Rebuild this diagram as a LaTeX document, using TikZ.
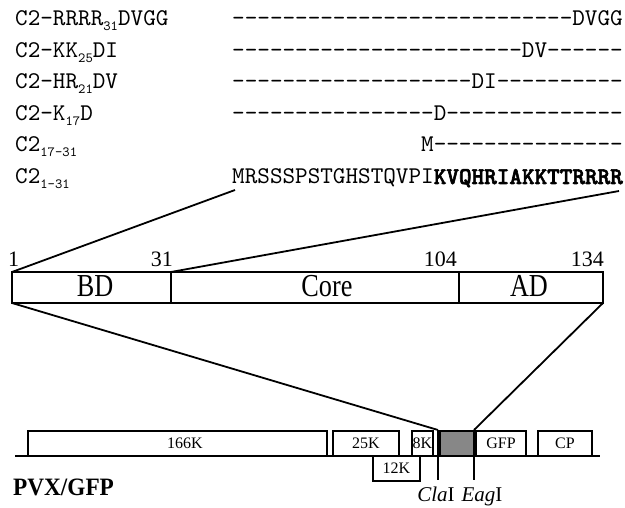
\documentclass[tikz,border=0pt]{standalone}
\usepackage{fontspec}
\usepackage{graphicx}
\setmainfont{Liberation Serif}
\newfontfamily\seqmono{lmmono10-regular}[Extension=.otf, BoldFont=lmmonolt10-bold, BoldFeatures={FakeBold=2.5}, Ligatures=TeXOff]
\newcommand\dashrun[1]{\ifnum#1>0 -\expandafter\dashrun\expandafter{\the\numexpr#1-1\relax}\fi}
\newcommand\subtxt[1]{\raisebox{-0.4ex}{\fontsize{14}{14}\selectfont #1}}
\newcommand\narrowtxt[1]{\scalebox{0.82}[1]{#1}}
\begin{document}
\begin{tikzpicture}[x=1pt,y=-1pt,
  lbl/.style={anchor=base west, inner sep=0pt, font=\seqmono\fontsize{24}{24}\selectfont},
  dom/.style={draw, line width=1.8pt, inner sep=0pt, outer sep=0pt, minimum height=31},
  domlab/.style={anchor=base, inner sep=0pt, font=\fontsize{32}{32}\selectfont},
  num/.style={inner sep=0pt, font=\fontsize{22}{22}\selectfont},
  conn/.style={line width=1.8pt},
  gbox/.style={draw, line width=1.5pt, inner sep=0pt, outer sep=0pt, minimum height=25, font=\fontsize{16}{16}\selectfont},
  gline/.style={line width=2pt},
  site/.style={line width=1.6pt},
  sitelab/.style={anchor=base, inner sep=0pt, font=\fontsize{21}{21}\selectfont}]
\useasboundingbox (0,0) rectangle (625,508);

% construct labels
\node[lbl] (l1) at (15,26) {C2-RRRR\subtxt{31}DVGG};
\node[lbl] (l2) at (15,58) {C2-KK\subtxt{25}DI};
\node[lbl] (l3) at (15,89) {C2-HR\subtxt{21}DV};
\node[lbl] (l4) at (15,121) {C2-K\subtxt{17}D};
\node[lbl] (l5) at (15,152) {C2\subtxt{17-31}};
\node[lbl] (l6) at (15,184) {C2\subtxt{1-31}};

% sequences
\node[lbl] (s1) at (232,26) {\dashrun{27}DVGG};
\node[lbl] (s2) at (232,58) {\dashrun{23}DV\dashrun{6}};
\node[lbl] (s3) at (232,89) {\dashrun{19}DI\dashrun{10}};
\node[lbl] (s4) at (232,121) {\dashrun{16}D\dashrun{14}};
\node[lbl] (s5) at (232,152) {\hphantom{MRSSSPSTGHSTQVP}M\dashrun{15}};
\node[lbl] (s6) at (232,184) {MRSSSPSTGHSTQVPI\textbf{KVQHRIAKKTTRRRR}};

% domain bar
\node[dom, minimum width=159] (bd) at (91.5,287.5) {};
\node[dom, minimum width=288] (core) at (315,287.5) {};
\node[dom, minimum width=144] (ad) at (531,287.5) {};
\node[domlab] (tbd) at (95,297) {\narrowtxt{BD}};
\node[domlab] (tcore) at (327,297) {\narrowtxt{Core}};
\node[domlab] (tad) at (529,297) {\narrowtxt{AD}};

\node[num, anchor=base west] (n1) at (8,267) {1};
\node[num, anchor=base east] (n31) at (173,267) {31};
\node[num, anchor=base east] (n104) at (457,267) {104};
\node[num, anchor=base east] (n134) at (604,267) {134};

% genome
\coordinate (gs) at (15,456);
\coordinate (ge) at (600,456);
\draw[gline] (gs) -- (ge);
\node[gbox, minimum width=299, label={[inner sep=0pt, font=\fontsize{16}{16}\selectfont, xshift=7.5pt]center:166K}] (k166) at (177.5,443.5) {};
\node[gbox, minimum width=66] (k25) at (366,443.5) {25K};
\node[gbox, minimum width=21] (k8) at (422.5,443.5) {8K};
\node[gbox, fill=black!47, minimum width=34] (grey) at (457,443.5) {};
\node[gbox, minimum width=50] (gfp) at (501,443.5) {GFP};
\node[gbox, minimum width=54] (cp) at (565,443.5) {CP};
\node[gbox, fill=white, minimum width=47] (k12) at (396.5,468.5) {12K};

\coordinate (cla) at (438,430);
\coordinate (clab) at (438,480);
\coordinate (eag) at (474,430);
\coordinate (eagb) at (474,480);
\draw[site] (cla) -- (clab);
\draw[site] (eag) -- (eagb);
\node[sitelab] (tcla) at (436,501) {\textit{Cla}I};
\node[sitelab] (teag) at (482,501) {\textit{Eag}I};

\node[anchor=base west, inner sep=0pt, font=\bfseries\fontsize{25}{25}\selectfont] (pvx) at (13,495) {\scalebox{0.93}[1]{PVX/GFP}};

% connectors
\coordinate (mtop) at (235,190);
\coordinate (rtop) at (619,191);
\draw[conn] (mtop) -- (bd.north west);
\draw[conn] (rtop) -- (bd.north east);
\draw[conn] (bd.south west) -- (cla);
\draw[conn] (ad.south east) -- (eag);
\end{tikzpicture}
\end{document}
